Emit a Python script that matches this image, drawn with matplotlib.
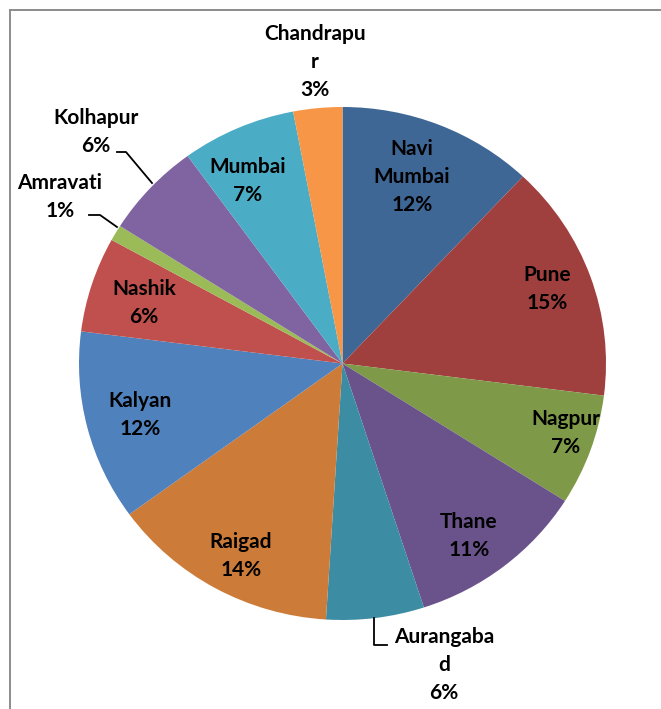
import matplotlib.pyplot as plt
from matplotlib.lines import Line2D

# Share of each city (percent), clockwise from the top
cities = ["Navi\nMumbai", "Pune", "Nagpur", "Thane", "Aurangaba\nd", "Raigad",
          "Kalyan", "Nashik", "Amravati", "Kolhapur", "Mumbai", "Chandrapu\nr"]
shares = [12, 15, 7, 11, 6, 14, 12, 6, 1, 6, 7, 3]

colors = ["#3F6796", "#A0403E", "#7E9A48", "#6A528A", "#3C8DA3", "#CD7B38",
          "#4F81BD", "#C0504D", "#9BBB59", "#8064A2", "#4BACC6", "#F79646"]

# label centres in axes data units (pie radius = 1)
label_pos = [(0.264, 0.727), (0.776, 0.290), (0.848, -0.271), (0.480, -0.673),
             (0.385, -1.175), (-0.385, -0.750), (-0.769, -0.201), (-0.753, 0.236),
             (-1.072, 0.649), (-0.935, 0.902), (-0.359, 0.711), (-0.104, 1.175)]

W, H = 661, 709
fig = plt.figure(figsize=(W / 100, H / 100), dpi=100)

# pie box in pixels: left 79, right 606, top 107, bottom 620
ax = fig.add_axes([79 / W, (H - 620) / H, 527 / W, 513 / H])
ax.pie(shares, colors=colors, startangle=90, counterclock=False,
       radius=1, wedgeprops=dict(linewidth=0))
ax.set_aspect("auto")
ax.set_xlim(-1, 1)
ax.set_ylim(-1, 1)
ax.axis("off")

for name, val, (x, y) in zip(cities, shares, label_pos):
    ax.text(x, y, f"{name}\n{val}%", ha="center", va="center", fontsize=15,
            fontweight="bold", family="Lato", linespacing=1.5,
            multialignment="center", clip_on=False)


def px(x, y):
    return ((x - 342.5) / 263.5, (363.5 - y) / 256.5)


# leader lines for the small slices
leaders = [
    [(117, 152), (126, 152), (152, 183)],   # Kolhapur
    [(89, 215), (100, 215), (117, 227)],    # Amravati
    [(374, 618), (374, 645), (387, 645)],   # Aurangabad
]
for pts in leaders:
    xs, ys = zip(*[px(a, b) for a, b in pts])
    ax.plot(xs, ys, color="black", lw=1.3, clip_on=False)

# chart frame (top and left edges visible)
fig.add_artist(Line2D([10 / W, 1], [1 - 10 / H, 1 - 10 / H], color="#8c8c8c", lw=1.4))
fig.add_artist(Line2D([10 / W, 10 / W], [0, 1 - 10 / H], color="#8c8c8c", lw=1.4))

fig.savefig("out.png", dpi=100)
